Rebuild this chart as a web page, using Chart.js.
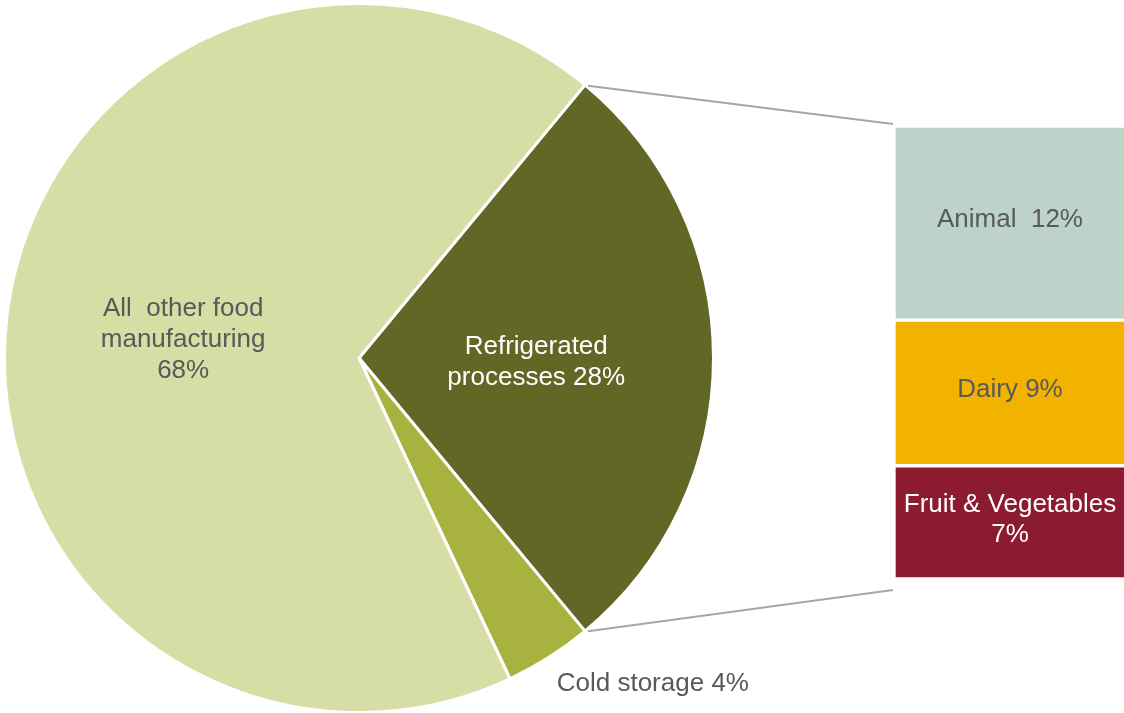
<!DOCTYPE html>
<html>
<head>
<meta charset="utf-8">
<script src="https://cdn.jsdelivr.net/npm/chart.js@4.4.1/dist/chart.umd.min.js"></script>
<style>
  html, body { margin: 0; padding: 0; background: #fff; overflow: hidden; }
  #wrap { position: relative; width: 1124px; height: 713px; overflow: hidden; }
  #pieChart { position: absolute; left: 0; top: 2px; }
  #barChart { position: absolute; left: 894px; top: 126px; }
</style>
</head>
<body>
<div id="wrap">
  <canvas id="pieChart" width="1124" height="712"></canvas>
  <canvas id="barChart" width="232" height="453"></canvas>
</div>
<script>
// pie data (clockwise from the top-right edge)
const pieLabels = ["Refrigerated processes", "Cold storage", "All other food manufacturing"];
const pieValues = [28, 4, 68];
const pieColors = ["#636726", "#a8b23e", "#d6dea6"];
const pieText = [["Refrigerated", "processes 28%"], ["Cold storage 4%"], ["All  other food", "manufacturing", "68%"]];
const pieTextColors = ["#ffffff", "#595959", "#595959"];

// breakdown of refrigerated processes (bottom to top)
const barLabels = ["Fruit & Vegetables", "Dairy", "Animal"];
const barValues = [7, 9, 12];
const barColors = ["#8c1b2f", "#f2b200", "#bdd2c8"];
const barText = [["Fruit & Vegetables", "7%"], ["Dairy 9%"], ["Animal  12%"]];
const barTextColors = ["#ffffff", "#595959", "#595959"];

const FONT = '26px "Liberation Sans", Arial, sans-serif';

function drawLines(ctx, lines, x, y, lh, align) {
    ctx.textAlign = align || "center";
    ctx.textBaseline = "middle";
    const top = y - (lines.length - 1) * lh / 2;
    lines.forEach((t, i) => ctx.fillText(t, x, top + i * lh));
}

const pieCanvas = document.getElementById("pieChart");
const barCanvas = document.getElementById("barChart");

const barChart = new Chart(barCanvas, {
    type: "bar",
    data: {
        labels: [""],
        datasets: barLabels.map((l, i) => ({
            label: l,
            data: [barValues[i]],
            backgroundColor: barColors[i],
            borderColor: "#ffffff",
            borderWidth: 2,
            borderSkipped: false,
            barPercentage: 1,
            categoryPercentage: 1,
        })),
    },
    options: {
        responsive: false,
        animation: false,
        layout: { padding: 0 },
        scales: {
            x: { display: false, stacked: true },
            y: { display: false, stacked: true, min: 0, max: 28 },
        },
        plugins: { legend: { display: false }, tooltip: { enabled: false } },
    },
    plugins: [{
        id: "barText",
        afterDatasetsDraw(chart) {
            const ctx = chart.ctx;
            ctx.save();
            ctx.font = FONT;
            chart.data.datasets.forEach((ds, i) => {
                const el = chart.getDatasetMeta(i).data[0];
                ctx.fillStyle = barTextColors[i];
                drawLines(ctx, barText[i], el.x, (el.y + el.base) / 2 - 3, 30);
            });
            ctx.restore();
        },
    }],
});

new Chart(pieCanvas, {
    type: "pie",
    data: {
        labels: pieLabels,
        datasets: [{
            data: pieValues,
            backgroundColor: pieColors,
            borderColor: "#ffffff",
            borderWidth: 3,
        }],
    },
    options: {
        responsive: false,
        animation: false,
        rotation: 39.6,
        layout: { padding: { right: 406 } },
        plugins: { legend: { display: false }, tooltip: { enabled: false } },
    },
    plugins: [{
        id: "pieText",
        afterDatasetsDraw(chart) {
            const ctx = chart.ctx;
            const arcs = chart.getDatasetMeta(0).data;
            ctx.save();
            ctx.font = FONT;
            // slice labels
            arcs.forEach((arc, i) => {
                ctx.fillStyle = pieTextColors[i];
                if (i === 1) {
                    const mid = (arc.startAngle + arc.endAngle) / 2;
                    const r = arc.outerRadius + 22;
                    drawLines(ctx, pieText[i], arc.x + r * Math.cos(mid) - 4, arc.y + r * Math.sin(mid) + 8, 30, "left");
                } else {
                    const p = arc.tooltipPosition();
                    drawLines(ctx, pieText[i], p.x, p.y + 4, 31);
                }
            });
            // connector lines to the bar
            const ref = arcs[0];
            const offX = barCanvas.offsetLeft - pieCanvas.offsetLeft;
            const offY = barCanvas.offsetTop - pieCanvas.offsetTop;
            const metas = barChart.data.datasets.map((d, i) => barChart.getDatasetMeta(i).data[0]);
            const topEl = metas[metas.length - 1], botEl = metas[0];
            const left = offX + topEl.x - topEl.width / 2 - 1;
            ctx.strokeStyle = "#a6a6a6";
            ctx.lineWidth = 2;
            ctx.beginPath();
            ctx.moveTo(ref.x + ref.outerRadius * Math.cos(ref.startAngle) + 3, ref.y + ref.outerRadius * Math.sin(ref.startAngle) + 1);
            ctx.lineTo(left, offY + topEl.y - 2);
            ctx.moveTo(ref.x + ref.outerRadius * Math.cos(ref.endAngle) + 3, ref.y + ref.outerRadius * Math.sin(ref.endAngle));
            ctx.lineTo(left, offY + botEl.base + 11);
            ctx.stroke();
            ctx.restore();
        },
    }],
});
</script>
</body>
</html>
